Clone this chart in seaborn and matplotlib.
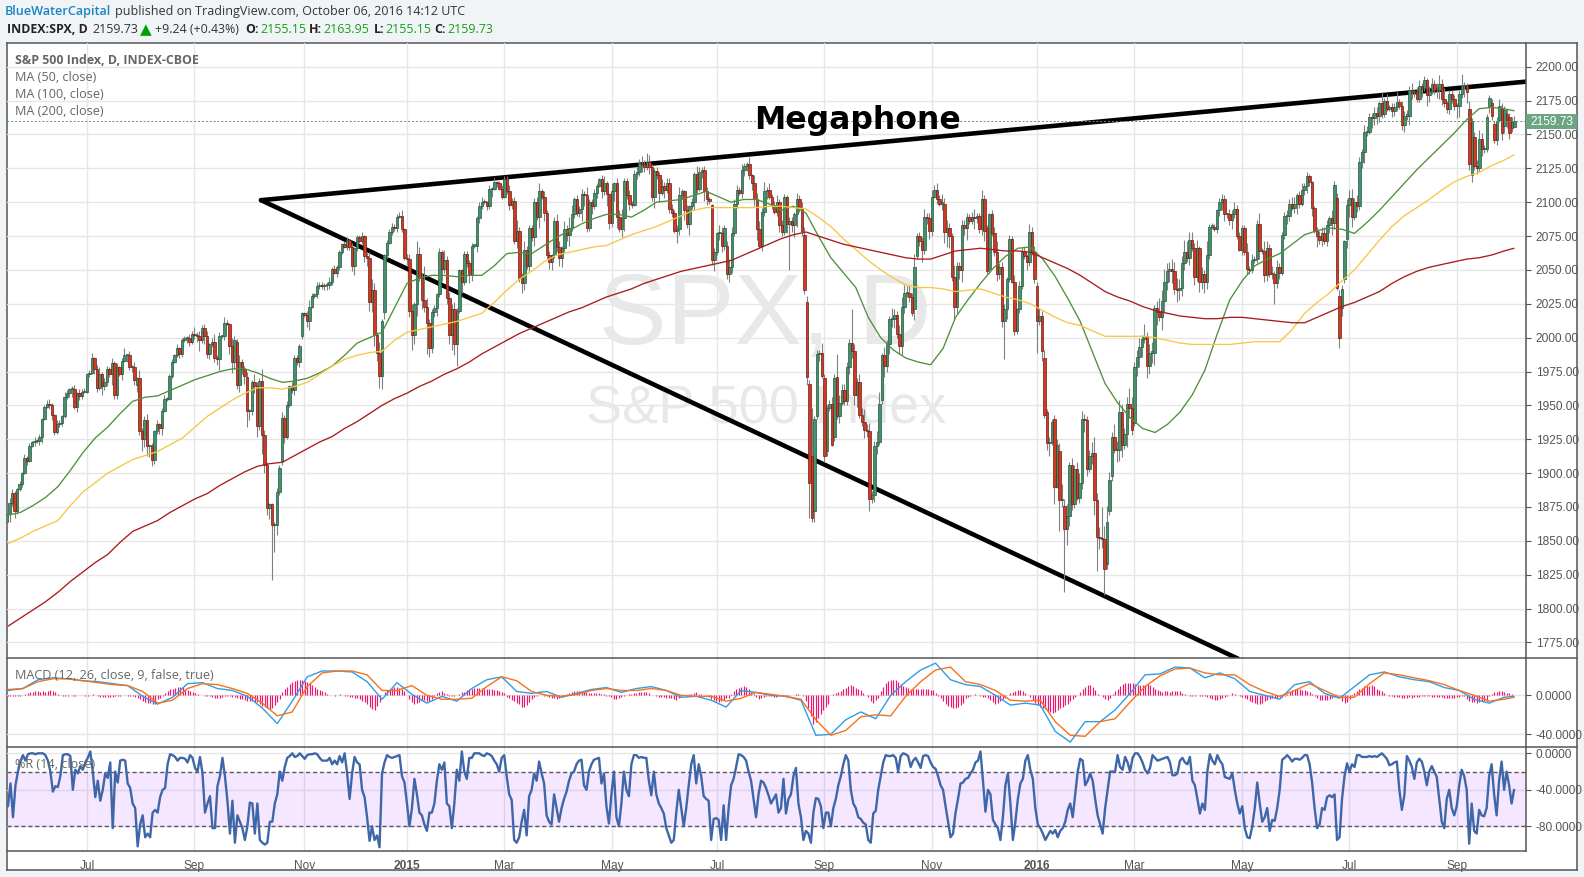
import matplotlib
matplotlib.use("Agg")
import matplotlib.pyplot as plt
from matplotlib.lines import Line2D
from matplotlib.patches import Rectangle
from matplotlib.transforms import blended_transform_factory
import numpy as np
import seaborn as sns

closes = [
 1870,1878,1885,1872,1888,1892,1900,1911,1909,1920,1923,
 1924,1924,1927,1940,1949,1951,1950,1943,1930,1936,1937,1942,1956,1959,1962,1962,1949,1959,1957,1960,1960,
 1973,1974,1985,1977,1963,1973,1964,1967,1977,1973,1981,1958,1978,1973,1983,1987,1987,1978,1978,1969,1970,1931,
 1925,1939,1920,1920,1910,1931,1936,1933,1946,1955,1955,1972,1982,1987,1992,1988,1998,2000,2000,1997,2003,
 2002,2001,1998,2007,2001,1988,1995,1997,1985,1984,2001,2001,2011,2010,1994,1982,1998,1965,1982,1977,1972,
 1946,1946,1967,1964,1935,1968,1928,1906,1874,1877,1862,1862,1886,1904,1941,1927,1950,1964,1961,1985,1982,1994,2018,
 2017,2012,2023,2031,2032,2038,2039,2038,2039,2039,2041,2051,2048,2052,2063,2069,2067,2072,2067,
 2053,2066,2074,2071,2075,2060,2059,2026,2035,2002,1989,1972,2012,2061,2070,2078,2082,2081,2089,2090,2080,2059,
 2058,2020,2002,2025,2062,2044,2028,2023,2011,1992,2019,2022,2032,2063,2051,2057,2029,2002,2021,1995,
 2020,2050,2041,2062,2055,2046,2068,2068,2088,2097,2100,2100,2097,2110,2110,2115,2114,2110,2104,
 2117,2108,2098,2101,2071,2079,2044,2040,2065,2053,2081,2074,2100,2089,2108,2104,2092,2061,2056,2061,2086,2067,
 2059,2066,2080,2076,2081,2091,2102,2092,2095,2106,2105,2081,2100,2097,2107,2112,2117,2108,2114,2106,2085,
 2108,2114,2089,2080,2088,2116,2105,2099,2098,2121,2122,2129,2128,2126,2130,2126,2104,2123,2120,2107,
 2112,2109,2114,2095,2092,2079,2080,2105,2108,2094,2084,2097,2100,2121,2110,2122,2124,2108,2102,2101,2057,2063,
 2077,2077,2068,2081,2047,2052,2077,2099,2109,2107,2124,2127,2128,2120,2114,2102,2080,2068,2093,2108,2109,2104,
 2098,2093,2100,2083,2078,2104,2084,2086,2083,2091,2102,2096,2079,2035,1971,1893,1867,1940,1988,1989,1972,
 1913,1948,1951,1921,1970,1942,1952,1961,1953,1978,1996,1990,1958,1967,1943,1938,1932,1931,1881,1884,1920,
 1923,1951,1987,1979,1995,2014,2014,2017,2003,1994,2023,2033,2033,2030,2018,2052,2075,2071,2065,2089,2088,2079,
 2104,2109,2102,2099,2099,2078,2081,2075,2045,2023,2053,2050,2083,2081,2089,2086,2089,2088,2090,2080,2102,
 2079,2049,2091,2077,2063,2047,2052,2012,2021,2043,2073,2041,2005,2021,2038,2064,2060,2056,2078,2063,2043,2012,
 2016,1990,1943,1922,1923,1938,1890,1921,1880,1881,1859,1868,1906,1877,1903,1882,1893,1940,
 1939,1903,1913,1915,1880,1853,1852,1851,1829,1864,1895,1927,1917,1917,1945,1921,1929,1951,1948,1932,
 1978,1986,1993,1999,2001,1979,1989,1989,2022,2019,2015,2027,2041,2049,2051,2049,2036,2035,2037,2055,2063,2059,
 2072,2066,2045,2066,2041,2047,2041,2061,2082,2082,2080,2094,2100,2102,2091,2091,2087,2091,2095,2075,2065,
 2081,2063,2051,2050,2057,2058,2084,2064,2064,2046,2066,2047,2047,2040,2052,2048,2076,2090,2090,2099,2096,
 2099,2105,2099,2109,2112,2119,2115,2096,2079,2075,2072,2077,2071,2083,2088,2085,2113,2037,2000,2036,2071,2098,
 2103,2089,2100,2097,2130,2137,2152,2152,2163,2162,2166,2164,2173,2165,2175,2169,2170,2167,2170,2174,
 2171,2157,2164,2164,2183,2181,2182,2176,2186,2184,2190,2179,2182,2187,2183,2183,2187,2176,2173,2169,2180,2176,2171,
 2171,2180,2186,2186,2181,2128,2160,2127,2125,2147,2139,2139,2163,2177,2164,2146,2160,2171,2151,2168,
 2161,2151,2159,2159.73,
]

open_overrides = {52: 1965, 92: 1997, 96: 1971, 101: 1935, 110: 1909, 118: 2001, 151: 2019, 160: 2059, 282: 2098,
 288: 2068, 319: 2076, 320: 2026, 321: 1966, 322: 1913, 323: 1872, 324: 1942, 327: 1970, 328: 1916, 331: 1927,
 332: 1971, 350: 1954, 363: 2021, 364: 2060, 392: 2081, 393: 2051, 412: 2038, 415: 1985, 416: 1945, 419: 1940,
 421: 1916, 423: 1876, 440: 1833, 441: 1872, 442: 1898, 451: 1937, 532: 2103, 533: 2031, 534: 2022, 535: 2043,
 536: 2073, 585: 2169, 586: 2120, 587: 2148, 593: 2170, 594: 2173, 595: 2158, 597: 2161, 598: 2169, 599: 2156,
 600: 2165, 601: 2163, 602: 2155, 603: 2155.15}

wick_up = [
 6,4,3,2,1,2,1,3,2,2, 1,3,1,2,1,1,3,4,2,1, 3,2,1,4,2,1,2,3,1,3, 2,3,1,2,4,1,3,5,2,3,
 2,1,4,2,3,1,2,5,1,3, 2,4,1,6,2,3,5,1,2,1, 3,1,2,3,1,1,2,1,3,1, 2,1,1,3,2,5,2,4,2,3,
 4,1,3,6,2,3,1,4,2,1, 6,3,2,5,2,2,4,1,2,6, 3,2,9,4,2,1,1,2,3,2, 4,2,3,1,3,2,2,1,1,1,
 3,5,2,1,3,2,2,1,2,4, 1,3,2,2,1,2,2,1,3,1, 2,2,3,1,3,4,8,5,2,8, 2,1,2,2,3,2,2,3,4,1,
 3,4,5,1,9,5,4,2,6,3, 2,2,1,3,2,8,3,5,4,5, 2,1,1,2,2,2,2,1,2,3, 4,2,1,3,1,3,1,2,3,2,
 2,5,2,3,8,3,4,6,3,2, 2,3,4,6,2,4,2,3,1,3, 5,4,2,6,3,8,7,2,3,2, 4,2,6,2,2,3,2,1,3,5,
 2,1,6,1,4,5,7,2,2,4, 2,3,4,3,5,3,6,5,2,2, 3,2,5,3,4,4,4,2,3,6, 2,1,4,1,3,1,6,4,2,3,
 3,2,1,3,1,6,5,2,3,6, 5,3,4,2,4,2,2,5,1,6, 5,6,3,7,2,5,2,3,5,2, 4,2,1,3,3,2,5,3,4,6,
 5,3,6,2,3,2,7,3,2,3, 5,3,2,6,5,5,4,3,8,5, 3,6,5,9,4,6,3,4,8,9, 2,6,3,2,8,4,3,6,7,6,
 5,5,3,10,2,3,3,6,3,4, 5,4,5,3,7,4,6,4,2,9, 3,3,4,4,3,2,4,6,2,2, 7,3,2,1,3,5,8,3,4,4,
 2,3,2,5,1,4,3,3,2,6, 4,5,3,6,4,6,2,4,2,3, 4,6,11,5,9,2,5,3,5,7, 6,4,3,4,8,12,5,7,4,10,
 12,6,3,9,7,9,6,4,5,12, 8,4,5,7,3,9,3,6,8,2, 5,10,8,10,6,5,7,7,8,6, 5,9,8,6,6,4,6,2,5,3,
 10,2,3,2,1,3,4,3,1,4, 3,5,3,3,2,2,7,2,5,2, 3,8,2,7,5,3,6,2,5,3, 2,3,4,3,5,5,2,3,5,2,
 3,2,1,1,3,4,5,5,4,2, 6,3,4,4,3,1,4,6,7,3, 5,3,2,5,4,3,3,4,4,2, 8,2,5,2,3,3,7,2,4,3,
 4,3,5,1,3,4,2,3,2,4, 5,3,5,7,4,8,2,3,3,3, 2,3,9,3,2,6,2,4,4,6, 4,3,2,2,3,2,3,5,4,3,
 4,3,4,4,
]
wick_up_long = {167: 25, 322: 35, 332: 17, 338: 25, 438: 23}

wick_dn = [
 2,6,2,5,2,1,2,1,3,1, 1,3,2,3,5,1,1,3,4,2, 1,2,2,1,1,3,6,2,4,3, 2,1,1,2,1,4,3,2,6,3,
 3,2,8,3,3,1,4,1,5,2, 3,4,5,3,9,6,7,8,5,3, 2,4,5,1,2,1,2,1,1,3, 2,1,4,3,2,3,4,8,2,6,
 3,4,2,3,4,8,1,3,1,6, 8,5,3,5,4,6,12,7,3,5, 8,3,14,6,5,8,2,3,8,2, 3,5,2,1,2,3,2,4,2,2,
 4,6,1,2,3,2,2,3,4,3, 2,1,3,2,1,1,2,2,4,7, 2,1,2,4,6,6,7,8,6,9, 10,5,2,1,2,2,3,1,2,2,
 4,5,8,7,9,2,7,4,4,6, 3,4,6,2,9,3,4,7,11,8, 7,2,8,2,3,6,4,2,5,3, 2,1,3,2,6,1,3,1,2,1,
 2,4,3,2,5,3,7,5,2,4, 3,6,2,8,2,6,3,5,6,2, 4,6,7,3,5,8,2,3,2,3, 9,8,3,2,6,2,4,1,5,3,
 9,5,3,7,8,2,6,9,3,5, 2,1,4,3,6,4,2,5,3,8, 3,7,2,6,2,3,3,2,9,4, 3,7,3,8,2,6,3,2,4,7,
 4,2,3,8,2,5,5,3,4,6, 4,2,3,2,4,5,4,3,5,5, 8,2,4,3,6,2,3,2,3,5, 3,2,7,6,5,9,9,3,4,3,
 6,7,3,8,2,5,2,5,3,2, 1,3,2,5,2,3,3,5,5,8, 9,2,3,6,4,2,3,5,6,2, 3,8,4,7,6,7,3,6,7,5,
 3,4,2,8,2,3,9,3,4,6, 4,1,3,2,5,8,11,9,3,9, 5,7,9,5,9,2,2,8,3,3, 4,8,2,3,2,3,5,4,4,2,
 7,2,1,3,2,3,2,2,6,3, 2,3,5,3,7,2,5,9,2,8, 1,4,5,6,3,7,4,3,2,4, 5,9,5,2,6,11,9,8,6,9,
 4,3,4,2,9,8,9,3,10,7, 4,2,6,8,7,3,9,6,8,9, 10,3,9,8,6,8,9,4,9,7, 6,5,3,5,2,6,3,7,5,8,
 5,3,2,1,3,4,6,5,3,4, 7,3,2,1,4,2,4,3,2,2, 3,6,2,5,4,2,4,9,3,5, 2,3,6,4,2,4,8,3,2,4,
 5,3,6,2,8,3,4,2,3,6, 9,5,2,4,6,3,7,9,7,2, 4,3,5,8,3,2,7,5,6,5, 3,2,2,2,4,3,3,2,4,5,
 3,7,5,3,2,2,6,2,8,5, 2,3,6,7,4,3,3,4,3,3, 9,8,3,8,8,4,5,3,4,3, 5,3,2,4,3,2,4,2,5,5,
 6,4,3,0,
]
wick_dn_long = {106: 41, 107: 20, 162: 11, 168: 23, 180: 16, 313: 34, 321: 26, 345: 9, 399: 28, 412: 23, 419: 13,
 421: 23, 423: 47, 424: 12, 436: 25, 439: 19, 507: 15, 533: 8}

ma_bars = list(range(0, 601, 5)) + [604]
ma50 = [1869,1871,1876,1882,1890,1902,1915,1926,1934,1944,1953,1956,1957,1961,1965,1969,1972,1975,1977,1977,
 1974,1970,1967,1968,1970,1974,1979,1987,1996,2000,2004,2022,2040,2044,2046,2046,2045,2046,2046,2053,
 2062,2063,2062,2068,2074,2079,2084,2088,2091,2091,2089,2094,2100,2101,2102,2105,2108,2104,2100,2102,
 2102,2099,2094,2097,2092,2075,2059,2048,2037,2015,2000,1991,1985,1982,1980,1992,2015,2028,2040,2051,
 2060,2066,2067,2058,2045,2029,2012,1989,1966,1952,1941,1933,1930,1936,1945,1958,1976,2003,2028,2042,
 2053,2058,2062,2069,2076,2079,2081,2080,2077,2085,2094,2104,2114,2124,2133,2142,2151,2161,2169,2170,2169,2167.5]
ma100 = [1848,1852,1857,1861,1865,1876,1886,1893,1900,1905,1910,1913,1916,1921,1926,1934,1942,1948,1954,1959,
 1963,1963,1962,1964,1967,1973,1979,1984,1987,1989,1990,1998,2004,2006,2008,2010,2012,2015,2018,2026,
 2035,2043,2049,2056,2061,2063,2065,2067,2068,2072,2076,2079,2082,2086,2090,2094,2096,2096,2096,2096,
 2096,2097,2097,2096,2095,2089,2082,2073,2065,2057,2050,2044,2039,2037,2037,2036,2034,2035,2036,2033,
 2030,2028,2025,2020,2015,2011,2009,2005,2001,2001,2001,2001,2000,1998,1996,1995,1995,1995,1995,1996,
 1997,1997,1997,2006,2018,2026,2033,2042,2050,2061,2072,2082,2090,2096,2102,2109,2115,2119,2122,2127,2131,2135]
ma200 = [1787,1793,1799,1805,1812,1820,1827,1834,1840,1849,1857,1861,1865,1871,1876,1881,1885,1891,1896,1901,
 1905,1907,1908,1913,1918,1923,1927,1933,1938,1944,1950,1955,1959,1964,1968,1973,1977,1982,1988,1993,
 1998,2003,2007,2011,2015,2019,2022,2026,2030,2033,2036,2040,2043,2046,2049,2051,2053,2055,2057,2061,
 2065,2069,2073,2076,2078,2075,2072,2069,2067,2065,2063,2061,2059,2058,2058,2061,2064,2065,2066,2065,
 2064,2064,2063,2059,2055,2051,2046,2040,2034,2030,2027,2023,2020,2018,2016,2015,2014,2014,2015,2015,
 2014,2013,2012,2011,2011,2015,2019,2023,2026,2030,2034,2040,2045,2049,2052,2054,2056,2058,2059,2061,2064,2066]

macd_bars = list(range(0, 601, 6)) + [604]
macd_line = [5,7,16,18,17,15,14,12,10,-1,-9,-2,12,13,7,5,-1,-13,-29,-6,19,25,25,24,14,-4,13,1,-8,-1,-6,7,16,
 19,4,2,4,-2,2,6,8,3,7,9,5,-2,-1,-5,-12,5,3,0,-1,-5,-41,-40,-25,-17,-24,0,14,26,33,16,11,9,0,-10,-8,-10,-37,-48,
 -27,-27,-15,2,21,22,29,28,18,23,17,4,0,-4,11,14,2,-3,9,21,24,19,16,14,8,5,-4,-8,-2,-1]
signal_line = [6,7,14,17,17,15,13,11,10,4,-8,-5,7,12,11,7,2,-8,-21,-17,9,23,25,25,21,5,5,10,0,-4,-4,-3,9,
 19,15,4,0,-1,1,5,7,5,5,7,5,0,-1,-1,-6,-3,3,1,-1,-4,-25,-41,-36,-22,-20,-21,-1,14,26,29,14,11,5,-5,-6,-5,-27,-41,
 -42,-27,-24,-7,9,20,27,28,23,21,21,11,4,-1,5,12,5,-2,-2,12,23,21,18,15,11,5,0,-6,-4,-2]
macd_hist = [
 -1,-1,-1,-1,-1,-1,0,1,2,3, 3,4,4,3,4,3,4,5,4,3, 1,0,-1,-1,-1,0,-1,-1,0,0, 0,-1,-1,0,1,0,-1,-2,-2,-2,
 -2,-2,-2,-1,-1,-1,0,0,-1,-1, -1,-2,-3,-4,-6,-7,-8,-8,-9,-9, -4,-3,-1,2,4,6,7,8,9,9, 9,7,5,4,3,2,1,0,0,-1,
 -1,-1,-2,-3,-3,-3,-2,-1,-1,-1, -2,-2,-3,-4,-4,-5,-6,-6,-6,-7, -7,-9,-11,-12,-13,-14,-13,-10,-7,-4, 3,6,9,12,14,15,16,16,16,15,
 14,13,11,9,7,5,4,3,1,0, 0,-1,0,1,0,-1,-1,-2,-2,-3, -3,-4,-6,-7,-9,-12,-14,-15,-11,-7, 0,3,5,7,8,9,9,8,6,4,
 0,-4,-7,-9,-8,-7,-6,-5,-6,-6, -4,-1,2,3,4,2,1,-1,-1,-1, 0,1,3,3,5,6,7,8,8,8, 8,7,7,6,6,5,5,4,3,2,
 -2,-3,-5,-6,-8,-9,-12,-12,-10,-7, -4,-2,-1,0,0,-1,-1,-2,-3,-3, -4,-3,-2,-1,1,2,3,4,4,4, 3,3,3,2,2,2,2,2,1,1,
 -1,-1,-2,-4,-4,-3,-2,-1,0,1, 1,2,2,3,3,3,3,2,0,0, -1,-2,-2,-2,-3,-3,-3,-4,-5,-3, -1,0,0,1,1,2,3,1,1,0,
 -1,-2,-4,-5,-6,-7,-6,-5,-3,-3, 1,4,6,8,9,10,9,6,3,1, -2,-4,-3,-2,-1,-1,-1,-2,-2,-1, 0,-1,-2,-1,0,0,1,1,0,-1,
 -6,-13,-21,-29,-27,-23,-19,-15,-12,-9, 0,1,2,3,4,6,8,10,11,10, 8,7,5,2,0,-2,-6,-8,-5,-3, 4,9,13,15,16,16,16,14,12,10,
 9,8,7,7,7,7,7,7,6,6, 5,5,2,-1,-3,-6,-9,-11,-12,-13, -13,-12,-10,-8,-3,-2,-1,0,1,0, -1,-2,-2,-3,-5,-7,-9,-8,-6,-4,
 -3,0,2,3,4,5,5,4,2,0, -2,-5,-8,-10,-12,-13,-14,-16,-17,-18, -17,-15,-13,-12,-10,-9,-6,-4,-2,0, 3,6,9,11,11,9,5,1,0,-2,
 -4,-5,-3,1,4,7,10,12,13,13, 13,13,12,11,11,11,11,12,11,9, 6,5,4,3,4,4,3,4,4,4, 4,2,1,0,-1,-1,-1,0,-1,-1,
 -1,-2,-3,-4,-5,-5,-4,-3,-2,-1, 0,2,1,0,-1,-2,-3,-4,-6,-7, -8,-9,-9,-8,-6,-5,-4,-3,-3,-3, -2,-2,-1,1,3,5,6,6,6,5,
 5,4,3,1,-1,-3,-5,-5,-5,-5, -4,-3,-2,-1,-1,-6,-8,-7,-4,-1, 2,4,6,8,10,10,10,11,10,7, 5,4,2,0,-1,-1,-2,-2,-2,-3,
 -3,-3,-2,-3,-2,-2,-2,-1,-1,-1, -1,-2,-2,-2,-2,-2,-3,-3,-3,-3, -3,-2,-2,-1,-1,-4,-6,-7,-7,-8, -7,-6,-6,-6,-1,1,3,3,4,4,
 3,2,2,1,0,
]

wr_depth = [
 58,33,70,35,20,8,2,8,1,0, 0,1,0,0,0,2,8,20,42,36, 37,25,2,1,1,3,40,18,22,14, 18,10,5,-2,20,48,30,52,40,22,
 27,10,82,20,32,8,7,8,33,38, 55,60,102,78,68,92,88,92,65,62, 65,48,40,38,12,1,2,4,8,5, 5,6,10,2,5,16,20,4,22,65,
 55,47,82,82,36,25,5,25,52,88, 52,98,68,75,82,95,80,54,55,88, 55,95,98,100,98,75,75,55,45,20, 30,15,5,3,0,4,3,0,3,6,
 2,1,1,0,1,5,8,8,8,5, 12,8,12,3,10,0,22,50,22,4, 10,12,40,48,70,96,80,95,90,103, 22,10,2,4,5,4,3,2,25,32,
 55,80,60,28,45,65,68,78,85,65, 65,55,30,12,18,10,55,58,82,55, 18,30,-2,20,28,5,5,0,0,0, 2,3,0,1,3,8,12,20,5,2,
 25,45,51,95,98,92,75,62,90,47, 40,22,30,9,22,33,68,75,78,45, 60,75,60,50,42,30,22,20,12,8, 7,35,40,20,12,7,6,5,33,22,
 58,77,45,20,70,80,55,20,40,47, 12,2,2,5,4,5,5,30,46,20, 45,55,60,66,82,90,98,95,65,40, 60,80,60,35,12,2,33,12,25,47,
 50,52,95,72,71,73,95,57,95,60, 35,28,15,1,2,4,8,20,30,50, 70,45,30,32,38,46,55,50,45,65, 60,28,66,50,45,25,16,55,70,95,
 85,88,98,65,49,50,58,82,65,65, 80,60,50,35,25,12,2,8,40,55, 60,70,72,76,78,95,98,66,63,40, 25,10,2,3,3,2,5,20,3,0,
 1,3,15,8,5,10,16,3,2,3, 10,15,17,25,35,40,58,75,92,88, 65,50,33,32,28,27,22,18,10,8, -2,30,64,40,45,73,78,82,95,70,
 35,22,55,95,75,50,33,28,8,2, 18,28,60,78,82,88,95,90,85,88, 84,92,85,82,75,62,55,70,45,20, 6,8,35,30,22,30,50,68,78,88,
 60,40,20,20,20,2,15,18,4,10, 20,5,0,0,4,10,18,22,16,2, 5,8,7,6,5,4,10,24,24,22, 8,5,10,12,4,30,35,50,66,55,
 62,20,1,8,12,2,8,12,26,27, 28,22,40,55,66,58,82,92,93,80, 60,32,55,75,70,60,85,73,74,60, 40,7,5,2,5,9,6,6,7,5,
 2,2,12,32,60,82,78,60,62,48, 46,48,45,95,92,50,25,11,20,12, 15,2,2,4,4,4,3,4,3,4, 2,0,3,6,13,12,10,9,40,62,
 46,3,8,15,28,10,6,9,20,35, 20,14,20,26,50,75,82,50,40,60, 68,58,35,18,25,40,99,55,85,88, 62,68,69,60,25,12,45,68,30,9,
 40,20,35,55,40,
]

month_ticks = [32, 75, 119, 160, 199, 242, 284, 327, 370, 412, 451, 494, 537, 580]
month_labels = ["Jul", "Sep", "Nov", "2015", "Mar", "May", "Jul", "Sep", "Nov", "2016", "Mar", "May", "Jul", "Sep"]
price_ticks = list(range(1775, 2201, 25))
macd_ticks = [0, -40]
wr_ticks = [0, -40, -80]
last_close = 2159.73
trend_upper_x, trend_upper_y = [101.6, 607.6], [2101.5, 2189]
trend_lower_x, trend_lower_y = [101.6, 492.4], [2101.5, 1763]

n = len(closes)
assert n == 604, n
assert len(wick_up) == n and len(wick_dn) == n, (len(wick_up), len(wick_dn))
assert len(macd_hist) == 605 and len(wr_depth) == 605, (len(macd_hist), len(wr_depth))
assert len(ma50) == len(ma_bars) and len(ma100) == len(ma_bars) and len(ma200) == len(ma_bars), (len(ma50), len(ma100), len(ma200), len(ma_bars))
assert len(macd_line) == len(macd_bars) and len(signal_line) == len(macd_bars), (len(macd_line), len(signal_line), len(macd_bars))

W, H = 1584, 877
sns.set_theme(style="white")
UI = ["Open Sans", "DejaVu Sans"]
AX = ["Liberation Sans", "DejaVu Sans"]
plt.rcParams["font.family"] = AX
BG = "#f1f4f7"; FRAME = "#555555"; GRID = "#e6e6e6"; TXT = "#555555"

fig = plt.figure(figsize=(W / 100, H / 100), dpi=100, facecolor=BG)

def box(l, t, r, b):
    return [l / W, (H - b) / H, (r - l) / W, (b - t) / H]

# the indicator readings were taken on a slightly tighter bar grid than the candles
def rebar(b):
    return 0.4 + 0.9974 * np.asarray(b, dtype=float)

frame = fig.add_axes(box(6.5, 43.3, 1577, 870), facecolor="white", zorder=0)
frame.set_xticks([]); frame.set_yticks([])
for s in frame.spines.values():
    s.set_color(FRAME); s.set_linewidth(1.1)

ax_p = fig.add_axes(box(6.5, 43.3, 1526, 658.3), facecolor="none", zorder=1)
ax_m = fig.add_axes(box(6.5, 658.3, 1526, 747.3), facecolor="none", zorder=1)
ax_r = fig.add_axes(box(6.5, 747.3, 1526, 851.3), facecolor="none", zorder=1)
XL = (-0.2, 607.6)

for ax, yl, yt in [(ax_p, (1763.3, 2217.3), price_ticks), (ax_m, (-53.3, 38), macd_ticks), (ax_r, (-107.4, 6.6), wr_ticks)]:
    ax.set_xlim(XL); ax.set_ylim(yl)
    ax.set_xticks(month_ticks); ax.set_yticks(yt)
    ax.yaxis.tick_right()
    ax.grid(True, color=GRID, linewidth=1.0)
    ax.set_axisbelow(True)
    ax.spines["top"].set_visible(False); ax.spines["left"].set_visible(False)
    ax.spines["bottom"].set_visible(False)
    ax.spines["right"].set_color(FRAME); ax.spines["right"].set_linewidth(1.1)
    ax.tick_params(axis="x", length=0, labelbottom=False)
    ax.tick_params(axis="y", length=3.5, width=0.8, color=FRAME, labelsize=8.6, labelcolor=TXT, pad=3.5)
ax_p.set_yticklabels([f"{v:.2f}" for v in price_ticks])
ax_m.set_yticklabels([f"{v:.4f}" for v in macd_ticks])
ax_r.set_yticklabels([f"{v:.4f}" for v in wr_ticks])
ax_r.spines["bottom"].set_visible(True); ax_r.spines["bottom"].set_color(FRAME); ax_r.spines["bottom"].set_linewidth(1.1)
ax_r.tick_params(axis="x", length=3, width=0.8, color=FRAME, labelbottom=True, labelsize=8.6, labelcolor=TXT, pad=3.5)
ax_r.set_xticklabels(month_labels)
for lab in ax_r.get_xticklabels():
    if lab.get_text() in ("2015", "2016"):
        lab.set_fontweight("bold")

for yy in (658.3, 747.3):
    fig.add_artist(Line2D([6.5 / W, 1577 / W], [(H - yy) / H] * 2, color=FRAME, lw=1.1, zorder=3))

# watermark
ax_p.text(765 / W, 1 - 318 / H, "SPX, D", transform=fig.transFigure, fontsize=73, color="#e8e8e8",
          ha="center", va="center", zorder=1, family=AX)
ax_p.text(766 / W, 1 - 408 / H, "S&P 500 Index", transform=fig.transFigure, fontsize=39, color="#e8e8e8",
          ha="center", va="center", zorder=1, family=AX)

# trend lines
sns.lineplot(x=trend_upper_x, y=trend_upper_y, ax=ax_p, color="black", linewidth=3.3, zorder=2, estimator=None)
sns.lineplot(x=trend_lower_x, y=trend_lower_y, ax=ax_p, color="black", linewidth=3.3, zorder=2, estimator=None)

# candles
bars = np.arange(n)
c = np.array(closes, dtype=float)
o = np.r_[c[0] - 6, c[:-1]]
for k, v in open_overrides.items():
    o[k] = v
wu = np.array(wick_up, dtype=float); wd = np.array(wick_dn, dtype=float)
for k, v in wick_up_long.items():
    wu[k] = v
for k, v in wick_dn_long.items():
    wd[k] = v
hi = np.maximum(o, c) + wu
lo = np.minimum(o, c) - wd
up = c >= o
ax_p.vlines(bars, lo, hi, color="#808080", linewidth=0.8, zorder=3)
body = np.maximum(np.abs(c - o), 0.8)
bottom = np.minimum(o, c)
ax_p.bar(bars[up], body[up], bottom=bottom[up], width=0.85, color="#45916c", edgecolor="#24583e", linewidth=0.5, zorder=3.2)
ax_p.bar(bars[~up], body[~up], bottom=bottom[~up], width=0.85, color="#d13a22", edgecolor="#6b1f14", linewidth=0.5, zorder=3.2)

# moving averages
ma_x = rebar(ma_bars)
sns.lineplot(x=ma_x, y=ma50, ax=ax_p, color="#4f8f3c", linewidth=0.95, zorder=4, estimator=None)
sns.lineplot(x=ma_x, y=ma100, ax=ax_p, color="#f6c744", linewidth=0.95, zorder=4, estimator=None)
sns.lineplot(x=ma_x, y=ma200, ax=ax_p, color="#a91b1b", linewidth=0.95, zorder=4, estimator=None)

ax_p.axhline(last_close, color="#5a9a73", linewidth=0.7, linestyle=(0, (2, 2)), zorder=4)
tr = blended_transform_factory(ax_p.transAxes, ax_p.transData)
ax_p.add_patch(Rectangle((1.0, last_close - 5.7), 51 / 1519.5, 11.4, transform=tr, facecolor="#6ba583",
                         edgecolor="none", clip_on=False, zorder=6))
ax_p.text(1.0 + 26 / 1519.5, last_close - 0.2, f"{last_close:.2f}", transform=tr, color="white", fontsize=8.6,
          ha="center", va="center", clip_on=False, zorder=7)

ax_p.text(858 / W, 1 - 120 / H, "Megaphone", transform=fig.transFigure, fontsize=22.7, fontweight="bold",
          color="black", ha="center", va="center", family=["DejaVu Sans"], zorder=8)

# MACD pane
ind_x = rebar(np.arange(len(macd_hist)))
macd_x = rebar(macd_bars)
ax_m.vlines(ind_x, 0, macd_hist, color="#f0146e", linewidth=0.85, zorder=2)
sns.lineplot(x=macd_x, y=macd_line, ax=ax_m, color="#2f9de8", linewidth=1.0, zorder=3, estimator=None)
sns.lineplot(x=macd_x, y=signal_line, ax=ax_m, color="#f5731c", linewidth=1.0, zorder=3.1, estimator=None)

# %R pane
ax_r.axhspan(-80, -20, facecolor="#9915ff", alpha=0.10, zorder=1, linewidth=0)
ax_r.axhline(-20, color="#5e5368", linewidth=1.0, linestyle=(0, (3, 2)), zorder=2)
ax_r.axhline(-80, color="#5e5368", linewidth=1.0, linestyle=(0, (3, 2)), zorder=2)
sns.lineplot(x=ind_x, y=-np.array(wr_depth, dtype=float), ax=ax_r, color="#3f66a8", linewidth=1.7, zorder=3, estimator=None)

# text
def t(x, y, s, **kw):
    kw.setdefault("family", UI); kw.setdefault("va", "center"); kw.setdefault("color", "#333333")
    kw.setdefault("fontsize", 9.0); kw.setdefault("zorder", 10)
    return fig.text(x / W, 1 - y / H, s, **kw)

t(5, 11.5, "BlueWaterCapital", color="#1a86c0", fontweight="semibold", fontsize=9.1)
t(115, 11.5, "published on TradingView.com, October 06, 2016 14:12 UTC", fontsize=9.0)
GREEN = "#18a018"
t(7, 29.5, "INDEX:SPX, D", fontweight="bold", fontsize=8.9, color="#222222")
t(92, 29.5, "2159.73", fontsize=8.9)
t(140, 29.5, "▲", color="#00a000", fontsize=11, family=["DejaVu Sans"])
t(155, 29.5, "+9.24 (+0.43%)", fontsize=8.9)
for xl, lab, xv, val in [(245, "O:", 260, "2155.15"), (309, "H:", 323, "2163.95"), (374, "L:", 385, "2155.15"), (434, "C:", 447, "2159.73")]:
    t(xl, 29.5, lab, fontweight="bold", fontsize=8.9, color="#222222")
    t(xv, 29.5, val, color=GREEN, fontsize=8.9)

LEG = "#666666"
t(15, 60.5, "S&P 500 Index, D, INDEX-CBOE", fontweight="bold", fontsize=8.95, color=LEG)
t(15, 77.5, "MA (50, close)", fontsize=9.1, color=LEG)
t(15, 94.5, "MA (100, close)", fontsize=9.1, color=LEG)
t(15, 111.5, "MA (200, close)", fontsize=9.1, color=LEG)
t(15, 675.5, "MACD (12, 26, close, 9, false, true)", fontsize=9.1, color=LEG)
t(15, 764.5, "%R (14, close)", fontsize=9.1, color=LEG)

fig.savefig("out.png", dpi=100, facecolor=fig.get_facecolor())
